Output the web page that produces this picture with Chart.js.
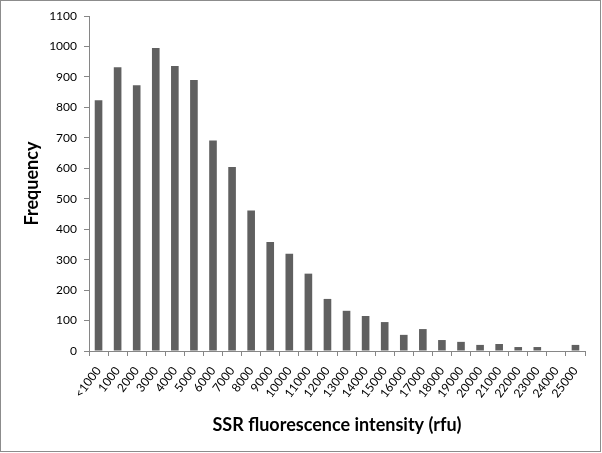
<!DOCTYPE html>
<html><head><meta charset="utf-8">
<script src="https://cdn.jsdelivr.net/npm/chart.js@4/dist/chart.umd.min.js"></script>
<style>html,body{margin:0;padding:0;background:#fff}#wrap{width:602px;height:453px;position:relative}</style>
</head><body><div id="wrap"><canvas id="c" width="602" height="453"></canvas></div>
<script>
const categories = ['<1000','1000','2000','3000','4000','5000','6000','7000','8000','9000','10000','11000','12000','13000','14000','15000','16000','17000','18000','19000','20000','21000','22000','23000','24000','25000'];
const frequency = [823,932,873,995,936,890,691,604,461,358,319,254,171,132,115,95,53,72,36,30,20,23,13,13,0,20];
const yTicks = [0,100,200,300,400,500,600,700,800,900,1000,1100];

const borderPlugin = {
  id: 'outerBorder',
  afterDraw(chart) {
    const ctx = chart.ctx;
    ctx.save();
    ctx.strokeStyle = '#8c8c8c';
    ctx.lineWidth = 1;
    ctx.strokeRect(0.5, 0.5, chart.width - 2, chart.height - 2);
    ctx.restore();
  }
};

new Chart(document.getElementById('c'), {
  type: 'bar',
  data: {
    labels: categories,
    datasets: [{ data: frequency, backgroundColor: '#606060', categoryPercentage: 1, barPercentage: 0.4 }]
  },
  plugins: [borderPlugin],
  options: {
    responsive: false,
    animation: false,
    layout: { padding: { top: 16, right: 17, left: 0, bottom: 0 } },
    plugins: { legend: { display: false }, tooltip: { enabled: false } },
    scales: {
      x: {
        offset: true,
        grid: { display: true, drawOnChartArea: false, offset: true, color: '#868686', tickLength: 5 },
        border: { color: '#868686' },
        ticks: { color: '#000', font: { family: 'Lato', size: 12 }, minRotation: 53, maxRotation: 53, autoSkip: false, padding: 8 },
        title: { display: true, text: 'SSR fluorescence intensity (rfu)', color: '#000', font: { family: 'Lato', size: 18, weight: 'bold' }, padding: { top: 4, bottom: 17 } },
        afterFit(s) { s.height = 102; }
      },
      y: {
        min: 0, max: 1100,
        afterBuildTicks(s) { s.ticks = yTicks.map(v => ({ value: v })); },
        grid: { display: true, drawOnChartArea: false, color: '#868686', tickLength: 5 },
        border: { color: '#868686' },
        ticks: { color: '#000', font: { family: 'Lato', size: 12 }, padding: 7, callback: v => String(v) },
        title: { display: true, text: 'Frequency', color: '#000', font: { family: 'Lato', size: 18, weight: 'bold' }, padding: { top: 21, bottom: 0 } },
        afterFit(s) { s.width = 89; }
      }
    }
  }
});
</script></body></html>
